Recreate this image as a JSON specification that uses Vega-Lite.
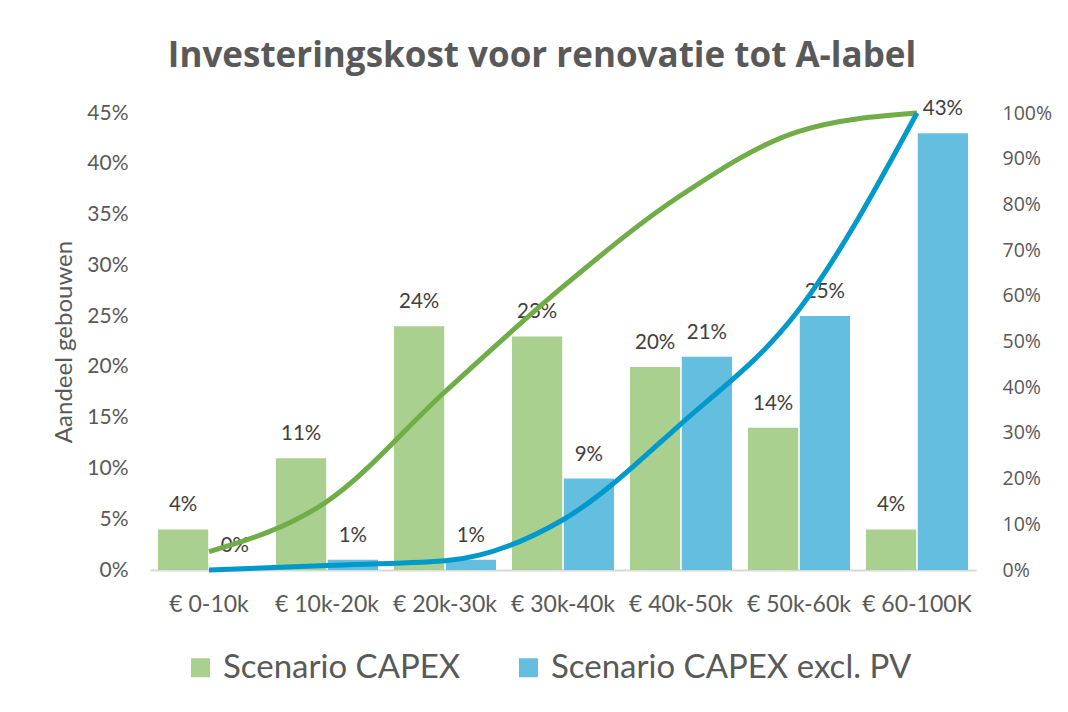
{
  "$schema": "https://vega.github.io/schema/vega-lite/v6.json",
  "width": 826,
  "height": 457,
  "autosize": {"type": "none"},
  "padding": {"left": 150, "top": 113, "right": 92, "bottom": 142},
  "background": "white",
  "title": {
    "text": "Investeringskost voor renovatie tot A-label",
    "font": "Open Sans",
    "fontSize": 35,
    "fontWeight": "bold",
    "color": "#595959",
    "anchor": "middle",
    "dx": -21,
    "offset": 25
  },
  "config": {
    "view": {"stroke": null},
    "font": "Lato",
    "axis": {"labelFont": "Lato", "labelColor": "#595959", "titleColor": "#595959", "grid": false, "ticks": false},
    "legend": {"labelFont": "Lato"}
  },
  "datasets": {
    "bars": [
      {"cat": "€ 0-10k", "series": "Scenario CAPEX", "value": 0.04},
      {"cat": "€ 0-10k", "series": "Scenario CAPEX excl. PV", "value": 0.0},
      {"cat": "€ 10k-20k", "series": "Scenario CAPEX", "value": 0.11},
      {"cat": "€ 10k-20k", "series": "Scenario CAPEX excl. PV", "value": 0.01},
      {"cat": "€ 20k-30k", "series": "Scenario CAPEX", "value": 0.24},
      {"cat": "€ 20k-30k", "series": "Scenario CAPEX excl. PV", "value": 0.01},
      {"cat": "€ 30k-40k", "series": "Scenario CAPEX", "value": 0.23},
      {"cat": "€ 30k-40k", "series": "Scenario CAPEX excl. PV", "value": 0.09},
      {"cat": "€ 40k-50k", "series": "Scenario CAPEX", "value": 0.20},
      {"cat": "€ 40k-50k", "series": "Scenario CAPEX excl. PV", "value": 0.21},
      {"cat": "€ 50k-60k", "series": "Scenario CAPEX", "value": 0.14},
      {"cat": "€ 50k-60k", "series": "Scenario CAPEX excl. PV", "value": 0.25},
      {"cat": "€ 60-100K", "series": "Scenario CAPEX", "value": 0.04},
      {"cat": "€ 60-100K", "series": "Scenario CAPEX excl. PV", "value": 0.43}
    ],
    "cum": [
      {"cat": "€ 0-10k", "series": "Scenario CAPEX", "cum": 0.04},
      {"cat": "€ 10k-20k", "series": "Scenario CAPEX", "cum": 0.15},
      {"cat": "€ 20k-30k", "series": "Scenario CAPEX", "cum": 0.39},
      {"cat": "€ 30k-40k", "series": "Scenario CAPEX", "cum": 0.62},
      {"cat": "€ 40k-50k", "series": "Scenario CAPEX", "cum": 0.82},
      {"cat": "€ 50k-60k", "series": "Scenario CAPEX", "cum": 0.96},
      {"cat": "€ 60-100K", "series": "Scenario CAPEX", "cum": 1.0},
      {"cat": "€ 0-10k", "series": "Scenario CAPEX excl. PV", "cum": 0.0},
      {"cat": "€ 10k-20k", "series": "Scenario CAPEX excl. PV", "cum": 0.01},
      {"cat": "€ 20k-30k", "series": "Scenario CAPEX excl. PV", "cum": 0.02},
      {"cat": "€ 30k-40k", "series": "Scenario CAPEX excl. PV", "cum": 0.11},
      {"cat": "€ 40k-50k", "series": "Scenario CAPEX excl. PV", "cum": 0.32},
      {"cat": "€ 50k-60k", "series": "Scenario CAPEX excl. PV", "cum": 0.57},
      {"cat": "€ 60-100K", "series": "Scenario CAPEX excl. PV", "cum": 1.0}
    ]
  },
  "encoding": {
    "x": {
      "field": "cat",
      "type": "nominal",
      "sort": null,
      "scale": {"paddingInner": 0.136, "paddingOuter": 0.068},
      "axis": {
        "title": null,
        "labelAngle": 0,
        "labelFontSize": 23,
        "labelPadding": 23,
        "labelLimit": 200,
        "domainColor": "#D9D9D9",
        "domainWidth": 2
      }
    }
  },
  "layer": [
    {
      "layer": [
        {
          "data": {"name": "bars"},
          "mark": {"type": "bar"},
          "encoding": {
            "xOffset": {"field": "series", "type": "nominal", "scale": {"paddingInner": 0.03}},
            "y": {
              "field": "value",
              "type": "quantitative",
              "scale": {"domain": [0, 0.45]},
              "axis": {
                "title": "Aandeel gebouwen",
                "titleFontSize": 24,
                "titleFontWeight": "normal",
                "titlePadding": 10,
                "format": ".0%",
                "values": [0, 0.05, 0.1, 0.15, 0.2, 0.25, 0.3, 0.35, 0.4, 0.45],
                "labelFontSize": 21,
                "labelPadding": 22,
                "domain": false
              }
            },
            "fill": {
              "field": "series",
              "type": "nominal",
              "scale": {"domain": ["Scenario CAPEX", "Scenario CAPEX excl. PV"], "range": ["#A9D08E", "#63BEE0"]},
              "legend": {
                "title": null,
                "orient": "none",
                "legendX": 34,
                "legendY": 538,
                "direction": "horizontal",
                "labelFontSize": 33,
                "labelColor": "#595959",
                "labelLimit": 500,
                "symbolType": "square",
                "symbolSize": 361,
                "symbolStrokeWidth": 0,
                "columnPadding": 51,
                "labelOffset": 6
              }
            }
          }
        },
        {
          "data": {"name": "bars"},
          "mark": {"type": "text", "baseline": "bottom", "dy": -14, "fontSize": 20.5, "color": "#404040"},
          "encoding": {
            "xOffset": {"field": "series", "type": "nominal", "scale": {"paddingInner": 0.03}},
            "y": {"field": "value", "type": "quantitative"},
            "text": {"field": "value", "type": "quantitative", "format": ".0%"}
          }
        }
      ]
    },
    {
      "data": {"name": "cum"},
      "mark": {"type": "line", "interpolate": "monotone", "strokeWidth": 5, "strokeCap": "butt"},
      "encoding": {
        "y": {
          "field": "cum",
          "type": "quantitative",
          "scale": {"domain": [0, 1]},
          "axis": {
            "orient": "right",
            "title": null,
            "format": ".0%",
            "values": [0, 0.1, 0.2, 0.3, 0.4, 0.5, 0.6, 0.7, 0.8, 0.9, 1.0],
            "labelFont": "Open Sans",
            "labelFontSize": 19.5,
            "labelPadding": 26,
            "domain": false
          }
        },
        "stroke": {
          "field": "series",
          "type": "nominal",
          "scale": {"domain": ["Scenario CAPEX", "Scenario CAPEX excl. PV"], "range": ["#70AD47", "#0099CC"]},
          "legend": null
        },
        "detail": {"field": "series"}
      }
    }
  ],
  "resolve": {"scale": {"y": "independent"}}
}
